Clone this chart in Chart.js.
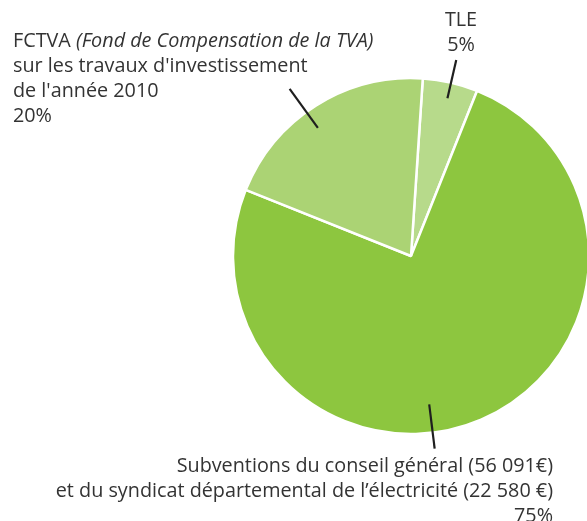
<!DOCTYPE html>
<html><head><meta charset="utf-8">
<script src="https://cdn.jsdelivr.net/npm/chart.js@4"></script>
<style>html,body{margin:0;padding:0;background:#fff}#wrap{position:relative;width:587px;height:521px}</style>
</head><body><div id="wrap"><canvas id="c" width="587" height="521"></canvas></div>
<script>
const categories = ["TLE", "Subventions", "FCTVA"];
const values = [5, 75, 20];
const colors = ["#b7da8b", "#8dc63f", "#abd374"];
const labelLines = [
  ["TLE", "5%"],
  ["Subventions du conseil général (56 091€)", "et du syndicat départemental de l’électricité (22 580 €)", "75%"],
  ["FCTVA |(Fond de Compensation de la TVA)", "sur les travaux d'investissement", "de l'année 2010", "20%"]
];
// leader line: angle (deg clockwise from top), inner & outer radius fraction
const leaders = [
  {angle: 13, r0: 0.91, r1: 1.13},
  {angle: 173, r0: 0.84, r1: 1.09},
  {angle: 324, r0: 0.89, r1: 1.16}
];
const textPos = [
  {x: 461, y: 26, align: "center"},
  {x: 553, y: 472, align: "right"},
  {x: 13, y: 47, align: "left"}
];
const FONT = '"Open Sans", sans-serif';
const SIZE = 19.8;
const LH = 25;

const labelPlugin = {
  id: "labels",
  afterDraw(chart) {
    const ctx = chart.ctx;
    const arc = chart.getDatasetMeta(0).data[0];
    const cx = arc.x, cy = arc.y, R = arc.outerRadius;
    ctx.save();
    ctx.strokeStyle = "#1f1f1f";
    ctx.lineWidth = 2.2;
    leaders.forEach(l => {
      const a = l.angle * Math.PI / 180;
      ctx.beginPath();
      ctx.moveTo(cx + R * l.r0 * Math.sin(a), cy - R * l.r0 * Math.cos(a));
      ctx.lineTo(cx + R * l.r1 * Math.sin(a), cy - R * l.r1 * Math.cos(a));
      ctx.stroke();
    });
    ctx.fillStyle = "#333333";
    ctx.textBaseline = "alphabetic";
    labelLines.forEach((lines, i) => {
      const p = textPos[i];
      lines.forEach((line, j) => {
        const y = p.y + j * LH;
        if (line.includes("|")) {
          const [a, b] = line.split("|");
          ctx.font = SIZE + "px " + FONT;
          const wa = ctx.measureText(a).width;
          ctx.textAlign = "left";
          ctx.fillText(a, p.x, y);
          ctx.font = "italic " + SIZE + "px " + FONT;
          ctx.fillText(b, p.x + wa, y);
        } else {
          ctx.font = SIZE + "px " + FONT;
          ctx.textAlign = p.align;
          ctx.fillText(line, p.x, y);
        }
      });
    });
    ctx.restore();
  }
};

new Chart(document.getElementById("c"), {
  type: "pie",
  data: {
    labels: categories,
    datasets: [{
      data: values,
      backgroundColor: colors,
      borderColor: "#ffffff",
      borderWidth: 2.5,
      hoverOffset: 0,
      radius: 178
    }]
  },
  options: {
    responsive: false,
    animation: false,
    rotation: 3.8,
    layout: {padding: {left: 235, right: 0, top: 80, bottom: 89}},
    plugins: {legend: {display: false}, tooltip: {enabled: false}}
  },
  plugins: [labelPlugin]
});
</script></body></html>
